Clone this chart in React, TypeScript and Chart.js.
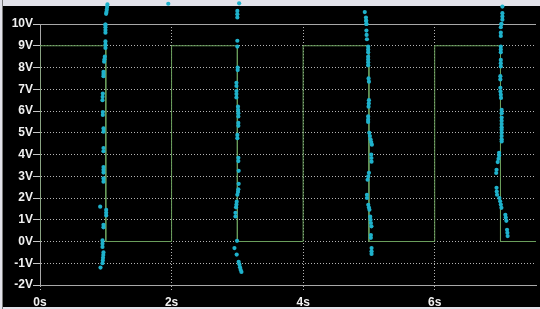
import React, { useEffect, useRef } from "react";
import { Chart, registerables } from "chart.js";

Chart.register(...registerables);

const Y_TICKS = [-2, -1, 0, 1, 2, 3, 4, 5, 6, 7, 8, 9, 10];
const X_TICKS = [0, 2, 4, 6];
const X_MAX = 7.54;

// square wave (time s, volts)
const WAVE_T = [0, 0, 1, 1, 2, 2, 3, 3, 4, 4, 5, 5, 6, 6, 7, 7, 7.6];
const WAVE_V = [0, 9, 9, 0, 0, 9, 9, 0, 0, 9, 9, 0, 0, 9, 9, 0, 0];

// sampled scatter traces [time s, volts]
const TRACE_1: [number, number][] = [
  [1.025, 10.9], [1.02, 10.78], [1.015, 10.66], [1.01, 10.55], [1.005, 10.47],
  [0.995, 9.97], [0.995, 9.85], [0.995, 9.72], [0.995, 9.6],
  [0.995, 9.2], [0.995, 9.05], [0.995, 8.9],
  [0.985, 8.5], [0.98, 8.38], [0.975, 8.27],
  [0.965, 7.8], [0.965, 7.7], [0.965, 7.6],
  [0.955, 6.8], [0.952, 6.65], [0.95, 6.5],
  [0.955, 5.95], [0.955, 5.82],
  [0.965, 5.2], [0.965, 5.05],
  [0.965, 4.3], [0.965, 4.15],
  [0.965, 3.42], [0.965, 3.3], [0.965, 3.17],
  [0.965, 2.9], [0.965, 2.75],
  [0.915, 1.6],
  [1.006, 1.45], [1.006, 1.32], [1.006, 1.2],
  [0.965, 0.77], [0.965, 0.65],
  [0.95, 0.05], [0.95, -0.1], [0.95, -0.25],
  [0.965, -0.5], [0.962, -0.62], [0.958, -0.75], [0.955, -0.87], [0.95, -1.0],
  [0.92, -1.2],
];

const TRACE_LONE: [number, number][] = [[1.95, 10.93]];

const TRACE_2: [number, number][] = [
  [3.027, 10.95],
  [3.0, 10.6], [3.0, 10.45], [3.0, 10.3],
  [3.0, 9.23], [3.0, 8.96],
  [3.005, 8.0], [3.005, 7.88],
  [2.986, 7.3], [2.986, 7.15],
  [2.986, 6.92], [2.986, 6.78], [2.986, 6.62],
  [3.01, 6.2], [3.012, 6.05], [3.015, 5.9], [3.015, 5.75],
  [3.015, 5.45], [3.015, 5.32],
  [3.0, 4.9], [3.0, 4.75],
  [3.015, 3.85], [3.015, 3.7],
  [3.02, 3.25],
  [3.02, 2.65],
  [3.015, 2.4], [3.01, 2.28], [3.0, 2.15],
  [2.99, 1.83], [2.986, 1.7], [2.98, 1.57],
  [2.971, 1.32], [2.971, 1.15],
  [2.995, 0.03],
  [2.956, -0.3],
  [2.99, -0.6],
  [3.02, -0.93], [3.03, -1.05], [3.04, -1.18], [3.05, -1.3], [3.062, -1.4],
];

const TRACE_3: [number, number][] = [
  [4.937, 10.55],
  [4.955, 10.3], [4.958, 10.15], [4.962, 10.0],
  [4.962, 9.7], [4.965, 9.5],
  [4.97, 9.3],
  [4.988, 8.96], [4.988, 8.83], [4.988, 8.7],
  [4.988, 8.5], [4.988, 8.37], [4.988, 8.24], [4.988, 8.1],
  [4.995, 7.5], [5.0, 7.35],
  [5.0, 6.5], [4.998, 6.35], [4.995, 6.2],
  [4.988, 5.75], [4.988, 5.6], [4.988, 5.5],
  [5.005, 5.0], [5.015, 4.85], [5.025, 4.7], [5.035, 4.57], [5.045, 4.45],
  [5.035, 4.0], [5.038, 3.84], [5.04, 3.67],
  [5.0, 3.16], [4.99, 3.0], [4.98, 2.84],
  [4.97, 2.15], [4.97, 2.0],
  [4.99, 1.69], [5.0, 1.56], [5.008, 1.46],
  [5.02, 1.14], [5.025, 1.0], [5.03, 0.85], [5.038, 0.7],
  [5.03, 0.3], [5.03, 0.17],
  [5.04, -0.3], [5.04, -0.45], [5.04, -0.57],
];

const TRACE_4: [number, number][] = [
  [7.029, 10.8],
  [7.029, 10.5], [7.029, 10.35], [7.029, 10.2],
  [7.014, 10.0], [7.005, 9.85],
  [7.005, 9.6], [7.005, 9.45],
  [7.005, 8.96], [7.005, 8.83], [7.005, 8.7],
  [7.005, 8.35], [7.005, 8.2], [7.005, 8.05],
  [6.998, 7.6], [6.998, 7.45],
  [6.998, 7.07], [7.0, 6.9], [7.005, 6.75], [7.008, 6.6],
  [7.018, 6.05], [7.018, 5.9],
  [7.018, 5.7], [7.018, 5.55], [7.018, 5.4], [7.018, 5.25], [7.018, 5.14],
  [7.018, 5.0], [7.018, 4.85], [7.018, 4.7], [7.018, 4.6],
  [6.979, 4.08],
  [6.979, 3.95], [6.97, 3.8], [6.958, 3.65],
  [6.94, 3.3], [6.935, 3.15],
  [6.94, 2.47], [6.943, 2.3], [6.948, 2.15],
  [6.983, 2.0], [6.995, 1.85], [7.005, 1.7], [7.014, 1.55],
  [7.074, 1.23], [7.08, 1.1], [7.089, 0.95],
  [7.1, 0.54], [7.105, 0.4], [7.109, 0.25],
];

const DOT_COLOR = "#1fb2cc";
const DOT_RADIUS = 2.1;
const FRAME_COLOR = "#a8a8a8";

const frame = {
  id: "frame",
  beforeDraw(chart: any) {
    const { ctx, width, height } = chart;
    ctx.save();
    ctx.fillStyle = "#e2e2ea";
    ctx.fillRect(0, 0, width, height);
    ctx.fillStyle = "#7a7a7a";
    ctx.fillRect(2, 0, 1, height);
    ctx.fillStyle = "#000000";
    ctx.fillRect(3, 6, width - 3, 301);
    ctx.restore();
  },
  beforeDatasetsDraw(chart: any) {
    const { ctx, chartArea } = chart;
    const t = Math.round(chartArea.top) + 0.5;
    const b = Math.round(chartArea.bottom) + 0.5;
    const l = Math.round(chartArea.left) + 0.5;
    ctx.save();
    ctx.strokeStyle = FRAME_COLOR;
    ctx.lineWidth = 1;
    ctx.setLineDash([]);
    ctx.beginPath();
    ctx.moveTo(chartArea.left, t);
    ctx.lineTo(chartArea.right, t);
    ctx.moveTo(chartArea.left, b);
    ctx.lineTo(chartArea.right, b);
    ctx.moveTo(l, chartArea.top);
    ctx.lineTo(l, chartArea.bottom);
    ctx.stroke();
    ctx.restore();
  },
  afterDatasetsDraw(chart: any) {
    // points above the plot area (the library skips points outside chartArea)
    const { ctx, chartArea } = chart;
    const meta = chart.getDatasetMeta(0);
    ctx.save();
    ctx.fillStyle = DOT_COLOR;
    for (const el of meta.data) {
      if (el.y < chartArea.top + DOT_RADIUS) {
        ctx.beginPath();
        ctx.arc(el.x, el.y, DOT_RADIUS, 0, Math.PI * 2);
        ctx.fill();
      }
    }
    ctx.restore();
  },
};

const toPts = (arr: [number, number][]) => arr.map(([x, y]) => ({ x, y }));

export default function App() {
  const ref = useRef<HTMLCanvasElement>(null);
  useEffect(() => {
    document.body.style.margin = "0";
    const dots = [...TRACE_1, ...TRACE_LONE, ...TRACE_2, ...TRACE_3, ...TRACE_4];
    const chart = new Chart(ref.current!, {
      type: "scatter",
      data: {
        datasets: [
          {
            data: toPts(dots),
            backgroundColor: DOT_COLOR,
            borderWidth: 0,
            pointRadius: DOT_RADIUS,
            showLine: false,
            clip: false as any,
          },
          {
            data: WAVE_T.map((t, i) => ({ x: t, y: WAVE_V[i] })),
            showLine: true,
            borderColor: "#6a9e5c",
            borderWidth: 1,
            pointRadius: 0,
            fill: false,
          },
        ],
      },
      plugins: [frame],
      options: {
        animation: false,
        responsive: false,
        devicePixelRatio: 1,
        layout: { padding: { top: 24, right: 0, left: 0, bottom: 0 } },
        plugins: { legend: { display: false }, tooltip: { enabled: false } },
        scales: {
          x: {
            type: "linear",
            min: 0,
            max: X_MAX,
            afterBuildTicks: (s: any) => {
              s.ticks = X_TICKS.map((v) => ({ value: v }));
            },
            afterFit: (s: any) => {
              s.height = 24;
            },
            grid: {
              color: "rgba(200,200,200,0.9)",
              lineWidth: 1,
              tickBorderDash: [1, 2],
              tickLength: 6,
              tickColor: "rgba(200,200,200,0.9)",
            } as any,
            border: { display: true, color: FRAME_COLOR, width: 1, dash: [1, 2] },
            ticks: {
              color: "#f0f0f0",
              padding: 4,
              maxRotation: 0,
              font: { family: "'Liberation Sans', Arial, sans-serif", size: 12, weight: "bold" },
              callback: (v: any) => `${v}s`,
            },
          },
          y: {
            type: "linear",
            min: -2,
            max: 10,
            afterBuildTicks: (s: any) => {
              s.ticks = Y_TICKS.map((v) => ({ value: v }));
            },
            afterFit: (s: any) => {
              s.width = 40;
            },
            grid: {
              color: "rgba(200,200,200,0.9)",
              lineWidth: 1,
              tickBorderDash: [],
              tickLength: 7,
              tickColor: "#c8c8c8",
            } as any,
            border: { display: true, color: FRAME_COLOR, width: 1, dash: [1, 2] },
            ticks: {
              color: "#f0f0f0",
              padding: 0,
              font: { family: "'Liberation Sans', Arial, sans-serif", size: 12, weight: "bold" },
              callback: (v: any) => `${v}V`,
            },
          },
        },
      },
    });
    return () => chart.destroy();
  }, []);
  return <canvas ref={ref} width={540} height={309} style={{ display: "block" }} />;
}
